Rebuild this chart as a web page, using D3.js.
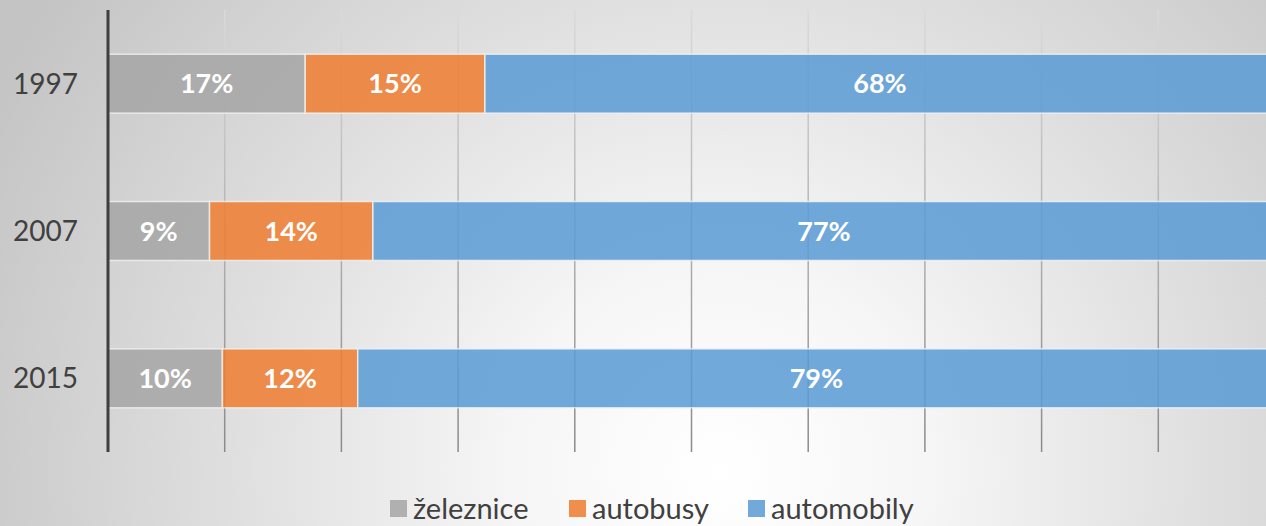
<!DOCTYPE html>
<html>
<head>
<meta charset="utf-8">
<script src="https://cdn.jsdelivr.net/npm/d3@7"></script>
<style>
  body { margin: 0; }
  svg { display: block; font-family: Lato, "Open Sans", sans-serif; }
</style>
</head>
<body>
<div id="chart"></div>
<script>
var years = ["1997", "2007", "2015"]
var seriesNames = ["železnice", "autobusy", "automobily"]
var zeleznice = [16.9, 8.7, 9.8]
var autobusy = [15.4, 14.0, 11.6]
var automobily = [67.7, 77.3, 78.6]
var seriesColors = ["#a5a5a5", "#ed7d31", "#5b9bd5"]
var gridTicks = [0, 10, 20, 30, 40, 50, 60, 70, 80, 90, 100]

var width = 1266, height = 526

var svg = d3.select("#chart").append("svg")
    .attr("width", width)
    .attr("height", height)

var defs = svg.append("defs")

var bg = defs.append("radialGradient")
    .attr("id", "bg")
    .attr("gradientUnits", "userSpaceOnUse")
    .attr("cx", 720).attr("cy", 470).attr("r", 820)
bg.append("stop").attr("offset", "0").attr("stop-color", "#ffffff")
bg.append("stop").attr("offset", "0.25").attr("stop-color", "#f6f6f6")
bg.append("stop").attr("offset", "1").attr("stop-color", "#c4c4c4")

var gridGrad = defs.append("linearGradient")
    .attr("id", "grid")
    .attr("gradientUnits", "userSpaceOnUse")
    .attr("x1", 0).attr("y1", 10).attr("x2", 0).attr("y2", 452)
gridGrad.append("stop").attr("offset", "0").attr("stop-color", "#dadada")
gridGrad.append("stop").attr("offset", "1").attr("stop-color", "#8a8a8a")

svg.append("rect")
    .attr("width", width)
    .attr("height", height)
    .attr("fill", "url(#bg)")

var x = d3.scaleLinear().domain([0, 100]).range([108, 1275])
var y = d3.scaleBand().domain(years).range([10, 452]).paddingInner(0.6).paddingOuter(0.3)

// gridlines
svg.append("g")
    .selectAll("line")
    .data(gridTicks.slice(1))
    .enter().append("line")
    .attr("x1", function(d) { return x(d) })
    .attr("x2", function(d) { return x(d) })
    .attr("y1", 10)
    .attr("y2", 452)
    .attr("stroke", "url(#grid)")
    .attr("stroke-width", 1.5)

// stack the data
var rows = years.map(function(yr, i) {
    return { year: yr, values: [zeleznice[i], autobusy[i], automobily[i]] }
})

var stack = d3.stack()
    .keys([0, 1, 2])
    .value(function(d, k) { return d.values[k] })
var layers = stack(rows)

var layer = svg.selectAll(".layer")
    .data(layers)
    .enter().append("g")
    .attr("class", "layer")

layer.selectAll("rect")
    .data(function(d) { return d.map(function(p) { return { s: d.key, p: p } }) })
    .enter().append("rect")
    .attr("x", function(d) { return x(d.p[0]) })
    .attr("y", function(d) { return y(d.p.data.year) })
    .attr("width", function(d) { return x(d.p[1]) - x(d.p[0]) })
    .attr("height", y.bandwidth())
    .attr("fill", function(d) { return seriesColors[d.s] })
    .attr("fill-opacity", 0.86)
    .attr("stroke", "#f2f2f2")
    .attr("stroke-opacity", 0.8)
    .attr("stroke-width", 1.5)

layer.selectAll("text")
    .data(function(d) { return d.map(function(p) { return { s: d.key, p: p } }) })
    .enter().append("text")
    .attr("x", function(d) { return (x(d.p[0]) + x(d.p[1])) / 2 })
    .attr("y", function(d) { return y(d.p.data.year) + y.bandwidth() / 2 })
    .attr("dy", "0.36em")
    .attr("text-anchor", "middle")
    .attr("fill", "#ffffff")
    .style("font-size", "27px")
    .style("font-weight", "bold")
    .text(function(d) { return Math.round(d.p[1] - d.p[0]) + "%" })

// axis line
svg.append("line")
    .attr("x1", 108).attr("x2", 108)
    .attr("y1", 10).attr("y2", 452)
    .attr("stroke", "#3f3f3f")
    .attr("stroke-width", 3)

// category labels
svg.append("g")
    .selectAll("text")
    .data(years)
    .enter().append("text")
    .attr("x", 78)
    .attr("y", function(d) { return y(d) + y.bandwidth() / 2 })
    .attr("dy", "0.36em")
    .attr("text-anchor", "end")
    .attr("fill", "#404040")
    .style("font-size", "28px")
    .text(function(d) { return d })

// legend
var legendX = [390, 569, 748]
var legend = svg.append("g")
    .selectAll("g")
    .data(seriesNames)
    .enter().append("g")
    .attr("transform", function(d, i) { return "translate(" + legendX[i] + ",500)" })

legend.append("rect")
    .attr("width", 17)
    .attr("height", 17)
    .attr("fill", function(d, i) { return seriesColors[i] })
    .attr("fill-opacity", 0.86)

legend.append("text")
    .attr("x", 23)
    .attr("y", 9)
    .attr("dy", "0.36em")
    .attr("fill", "#404040")
    .style("font-size", "29px")
    .text(function(d) { return d })
</script>
</body>
</html>
